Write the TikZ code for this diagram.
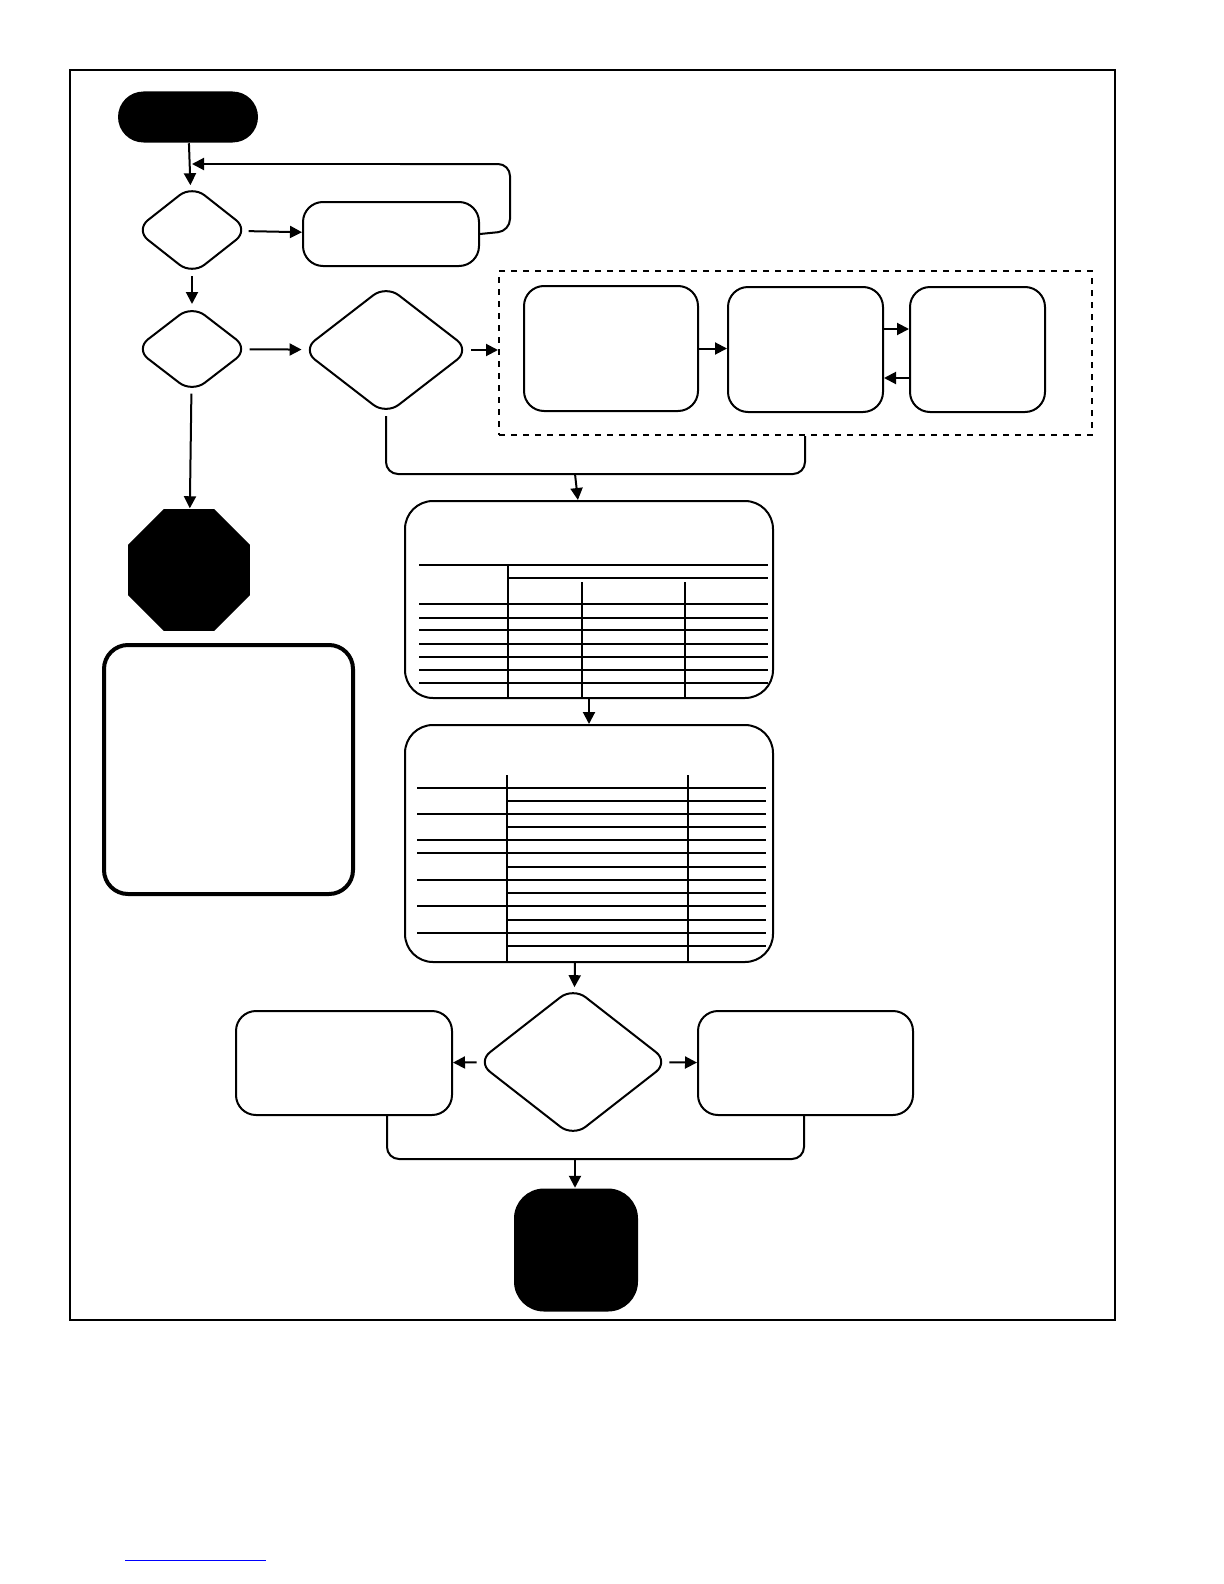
\documentclass[tikz,border=0pt]{standalone}
\usetikzlibrary{shapes.geometric,shapes.misc,arrows.meta}
\tikzset{every picture/.style={line width=0.75pt}}
\tikzset{
  procbox/.style={draw,rounded corners=10,line width=1pt,inner sep=0pt},
  decision/.style={draw,diamond,rounded corners=8,line width=1pt,inner sep=0pt},
  flow/.style={-{Triangle[length=6pt,width=6pt]},line width=1pt},
  joint/.style={line width=1pt,rounded corners=6},
  tabline/.style={line width=0.9pt}
}
\begin{document}
\begin{tikzpicture}[x=0.5pt,y=0.5pt,yscale=-1,xscale=1]
\useasboundingbox (0,0) rectangle (1224,1584);
%Shape: Frame
\draw (70,70) rectangle (1115,1320);

%Start and stop
\node (start) [fill=black,rounded rectangle,minimum width=70pt,minimum height=25.5pt,inner sep=0pt] at (188,117) {};
\node (halt) [fill=black,regular polygon,regular polygon sides=8,minimum size=66pt,inner sep=0pt] at (189,570) {};
\node (finish) [fill=black,rounded corners=15,minimum width=62pt,minimum height=61.5pt,inner sep=0pt] at (576,1250) {};

%Decisions
\node (dOne) [decision,minimum width=57pt,minimum height=45pt] at (192,230) {};
\node (dTwo) [decision,minimum width=57pt,minimum height=44pt] at (192,349) {};
\node (dThree) [decision,minimum width=84pt,minimum height=65pt] at (386,350) {};
\node (dFour) [decision,minimum width=96pt,minimum height=75pt] at (573,1062) {};

%Boxes
\node (retry) [procbox,minimum width=88pt,minimum height=32pt] at (391,234) {};
\node (group) [draw,dashed,line width=1pt,minimum width=296.5pt,minimum height=82pt,inner sep=0pt] at (795.5,353) {};
\node (stepA) [procbox,minimum width=87pt,minimum height=62.5pt] at (611,348.5) {};
\node (stepB) [procbox,minimum width=77.5pt,minimum height=62.5pt] at (805.5,349.5) {};
\node (stepC) [procbox,minimum width=67.5pt,minimum height=62.5pt] at (977.5,349.5) {};
\node (note) [draw,rounded corners=12,line width=2pt,minimum width=124.5pt,minimum height=124.5pt,inner sep=0pt] at (228.5,769.5) {};
\node (tabOne) [procbox,rounded corners=14,minimum width=184pt,minimum height=98.5pt] at (589,599.5) {};
\node (tabTwo) [procbox,rounded corners=14,minimum width=184pt,minimum height=118.5pt] at (589,843.5) {};
\node (left) [procbox,minimum width=108pt,minimum height=52pt] at (344,1063) {};
\node (right) [procbox,minimum width=107.5pt,minimum height=52pt] at (805.5,1063) {};

%Table one rules
\draw [tabline] (419,565) -- (768,565);
\draw [tabline] (508,578) -- (768,578);
\draw [tabline] (508,565) -- (508,697);
\draw [tabline] (582,582) -- (582,697);
\draw [tabline] (685,582) -- (685,697);
\foreach \y in {604,618,630,644,657,670,683}
  \draw [tabline] (419,\y) -- (768,\y);

%Table two rules
\draw [tabline] (507,775) -- (507,961);
\draw [tabline] (688,775) -- (688,961);
\foreach \y in {788,814,840,853,880,906,933}
  \draw [tabline] (417,\y) -- (507,\y);
\foreach \y in {788,801,814,827,840,853,867,880,893,906,920,933,946}
  \draw [tabline] (507,\y) -- (766,\y);

%Connectors
\coordinate (loopIn) at (192,164);
\coordinate (mergeA) at (575,474);
\coordinate (mergeB) at (575,1159);
\draw [flow] (start) -- (dOne);
\draw [flow] (dOne) -- (retry);
\draw [joint] (retry.east) -- (510,231) -- (510,164) -- (400,164);
\draw [flow] (400,164) -- (loopIn);
\draw [flow] (dOne) -- (dTwo);
\draw [flow] (dTwo) -- (dThree);
\draw [flow] (dTwo) -- (halt);
\draw [flow] (dThree) -- (group.west |- dThree);
\draw [flow] (stepA) -- (stepA -| stepB.west);
\draw [flow] (stepB.east |- 0,329) -- (stepC.west |- 0,329);
\draw [flow] (stepC.west |- 0,378) -- (stepB.east |- 0,378);
\draw [joint] (dThree.south) -- (386,474) -- (mergeA);
\draw [joint] (group.south -| 805,0) -- (805,474) -- (mergeA);
\draw [flow] (mergeA) -- (tabOne);
\draw [flow] (tabOne) -- (tabOne.south |- tabTwo.north);
\draw [flow] (575,962) -- (dFour);
\draw [flow] (dFour) -- (left);
\draw [flow] (dFour) -- (right);
\draw [joint] (left.south -| 387,0) -- (387,1159) -- (mergeB);
\draw [joint] (right.south -| 804,0) -- (804,1159) -- (mergeB);
\draw [flow] (mergeB) -- (mergeB |- finish.north);

%Footer rule
\draw [blue,line width=0.5pt] (125,1560) -- (266,1560);
\end{tikzpicture}
\end{document}
